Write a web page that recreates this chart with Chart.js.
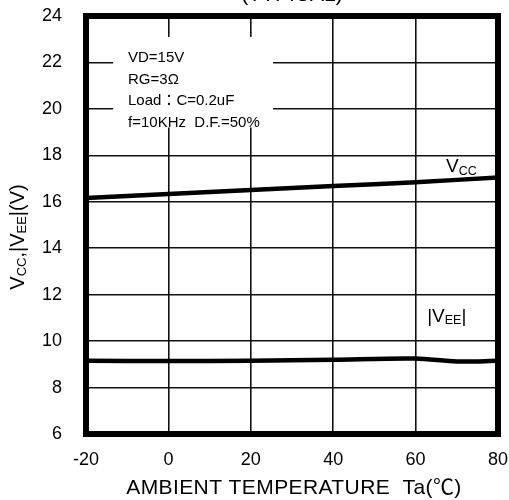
<!DOCTYPE html>
<html>
<head>
<meta charset="utf-8">
<script src="https://cdn.jsdelivr.net/npm/chart.js@4.4.1/dist/chart.umd.min.js"></script>
<style>
html,body{margin:0;padding:0;background:#fff;}
#wrap{width:509px;height:500px;}
</style>
</head>
<body>
<div id="wrap"><canvas id="c" width="509" height="500"></canvas></div>
<script>
// ---- data ----
const vccTemps = [-20, 0, 20, 40, 60, 80];
const vccValues = [16.16, 16.33, 16.51, 16.68, 16.84, 17.05];
const veeTemps = [-20, 0, 20, 40, 60, 70, 80];
const veeValues = [9.15, 9.14, 9.15, 9.2, 9.25, 9.12, 9.15];
const xTickLabels = [-20, 0, 20, 40, 60, 80];
const yTickLabels = [6, 8, 10, 12, 14, 16, 18, 20, 22, 24];
const conditionLines = ["VD=15V", "RG=3Ω", "Load：C=0.2uF", "f=10KHz  D.F.=50%"];
const chartTitle = "(TYPICAL)";
const xTitle = "AMBIENT TEMPERATURE  Ta(℃)";

const FONT = "'Liberation Sans', Arial, 'Noto Sans CJK JP', sans-serif";

function pts(xs, ys) { return xs.map((x, i) => ({ x: x, y: ys[i] })); }

function drawSubText(ctx, parts, x, y, big, small) {
  let cx = x;
  for (const [t, sub] of parts) {
    ctx.font = (sub ? small : big) + "px " + FONT;
    ctx.fillText(t, cx, sub ? y + big * 0.22 : y);
    cx += ctx.measureText(t).width;
  }
  return cx - x;
}
function measureSub(ctx, parts, big, small) {
  let w = 0;
  for (const [t, sub] of parts) {
    ctx.font = (sub ? small : big) + "px " + FONT;
    w += ctx.measureText(t).width;
  }
  return w;
}

const deco = {
  id: 'deco',
  beforeDatasetsDraw(chart) {
    const ctx = chart.ctx, xs = chart.scales.x, ys = chart.scales.y;
    const x0 = xs.getPixelForValue(-13.4), x1 = xs.getPixelForValue(25.4);
    const y0 = ys.getPixelForValue(23.1), y1 = ys.getPixelForValue(19.2);
    ctx.save();
    ctx.fillStyle = '#fff';
    ctx.fillRect(x0, y0, x1 - x0, y1 - y0);
    ctx.fillStyle = '#000';
    ctx.font = "15px " + FONT;
    ctx.textBaseline = 'middle';
    ctx.textAlign = 'left';
    const tx = xs.getPixelForValue(-9.8);
    const startY = ys.getPixelForValue(22.2);
    conditionLines.forEach((t, i) => ctx.fillText(t, tx, startY + i * 21.6));
    ctx.restore();
  },
  afterDraw(chart) {
    const ctx = chart.ctx, a = chart.chartArea, xs = chart.scales.x, ys = chart.scales.y;
    ctx.save();
    ctx.strokeStyle = '#000';
    ctx.lineWidth = 6;
    ctx.strokeRect(a.left, a.top, a.right - a.left, a.bottom - a.top);
    ctx.fillStyle = '#000';
    ctx.font = "21px " + FONT;
    ctx.textAlign = 'center';
    ctx.textBaseline = 'alphabetic';
    ctx.fillText(chartTitle, (a.left + a.right) / 2, 1);
    ctx.save();
    ctx.font = "21px " + FONT;
    ctx.textBaseline = 'middle';
    if ('letterSpacing' in ctx) ctx.letterSpacing = '0.4px';
    ctx.fillText(xTitle, (a.left + a.right) / 2 + 2, 488);
    ctx.restore();
    ctx.textAlign = 'left';
    ctx.textBaseline = 'middle';
    const yParts = [["V", false], ["CC", true], [",|V", false], ["EE", true], ["|(V)", false]];
    const w = measureSub(ctx, yParts, 20, 13);
    ctx.save();
    ctx.translate(18, 237);
    ctx.rotate(-Math.PI / 2);
    drawSubText(ctx, yParts, -w / 2, 0, 20, 13);
    ctx.restore();
    drawSubText(ctx, [["V", false], ["CC", true]], xs.getPixelForValue(67.4), ys.getPixelForValue(17.5), 19, 12.5);
    drawSubText(ctx, [["|V", false], ["EE", true], ["|", false]], xs.getPixelForValue(62.8), ys.getPixelForValue(11.05), 19, 12.5);
    ctx.restore();
  }
};

new Chart(document.getElementById('c'), {
  type: 'scatter',
  data: {
    datasets: [
      { label: 'VCC', data: pts(vccTemps, vccValues), showLine: true, borderColor: '#000', borderWidth: 4.5, pointRadius: 0, tension: 0.2, fill: false },
      { label: '|VEE|', data: pts(veeTemps, veeValues), showLine: true, borderColor: '#000', borderWidth: 4.5, pointRadius: 0, tension: 0.3, fill: false }
    ]
  },
  options: {
    responsive: false,
    devicePixelRatio: 1,
    animation: false,
    layout: { padding: { top: 16, right: 11, left: 0, bottom: 0 } },
    plugins: { legend: { display: false }, tooltip: { enabled: false }, title: { display: false } },
    scales: {
      x: {
        type: 'linear', min: -20, max: 80,
        afterFit(s) { s.height = 66; s.paddingLeft = 0; s.paddingRight = 0; s.paddingTop = 0; s.paddingBottom = 0; },
        afterBuildTicks(s) { s.ticks = xTickLabels.map(v => ({ value: v })); },
        ticks: { color: '#000', font: { size: 18, family: FONT }, padding: 15, maxRotation: 0, autoSkip: false },
        grid: { color: '#111', lineWidth: 1.6, drawTicks: false },
        border: { display: false }
      },
      y: {
        type: 'linear', min: 6, max: 24,
        afterFit(s) { s.width = 86; s.paddingLeft = 0; s.paddingRight = 0; s.paddingTop = 0; s.paddingBottom = 0; },
        afterBuildTicks(s) { s.ticks = yTickLabels.map(v => ({ value: v })); },
        ticks: { color: '#000', font: { size: 18, family: FONT }, padding: 24, autoSkip: false },
        grid: { color: '#111', lineWidth: 1.6, drawTicks: false },
        border: { display: false }
      }
    }
  },
  plugins: [deco]
});
</script>
</body>
</html>
